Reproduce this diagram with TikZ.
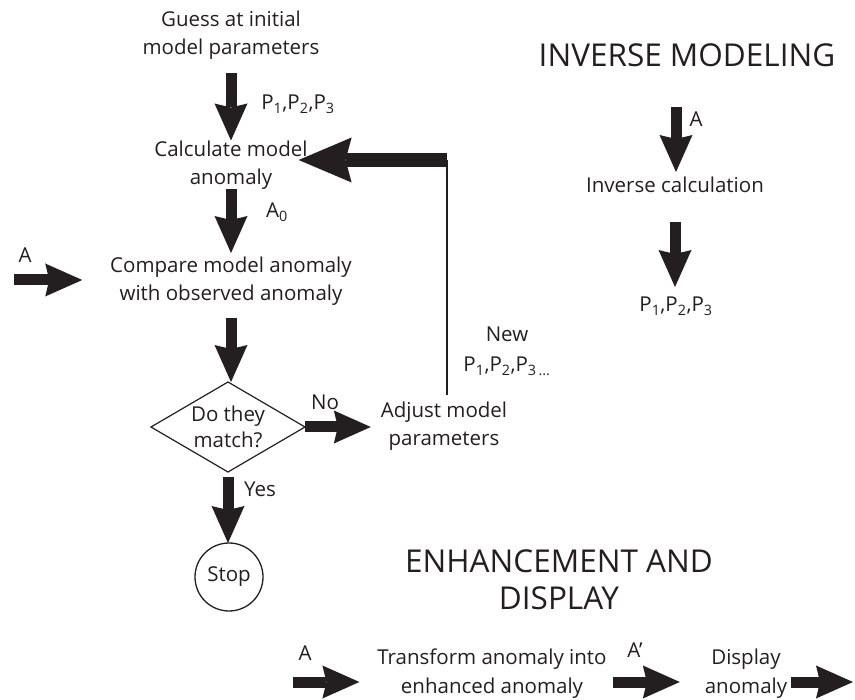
\documentclass[tikz,border=0pt]{standalone}
\usepackage{fontspec}
\setmainfont{Open Sans}
\usetikzlibrary{arrows.meta,shapes.geometric}
\definecolor{dk}{RGB}{35,31,32}
\newcommand\ls{\rule[-5pt]{0pt}{21pt}}
\newcommand\lt{\rule[-7pt]{0pt}{30pt}}
\begin{document}
\begin{tikzpicture}[x=1pt,y=-1pt,
  every node/.style={text=dk, font=\fontsize{20.5}{28}\selectfont, inner sep=0pt, outer sep=0pt},
  txt/.style={align=center},
  lbl/.style={anchor=base},
  ttl/.style={align=center, font=\fontsize{31.5}{38}\selectfont},
  fat/.style={draw=dk, line width=11pt, -{Stealth[length=37pt,width=33pt,inset=4pt,line width=0pt]}},
  big/.style={draw=dk, line width=14pt, -{Stealth[length=53pt,width=45pt,inset=6pt,line width=0pt]}},
  thinline/.style={draw=dk, line width=2pt}]
\useasboundingbox (0,0) rectangle (855,700);

% main column
\node[txt] (guess) at (231,35.5) {\ls Guess at initial\\\ls model parameters};
\node[txt] (calc) at (231,165) {\ls Calculate model\\\ls anomaly};
\node[txt] (compare) at (231,281.5) {\ls Compare model anomaly\\\ls with observed anomaly};
\node[shape=diamond, draw=dk, line width=1.2pt, minimum width=154pt, minimum height=90pt] (dec) at (228,427) {};
\node[txt, font=\fontsize{20.5}{26}\selectfont] (dect) at (228,429.5) {\ls Do they\\\ls match?};
\node[txt] (adjust) at (444,426.5) {\ls Adjust model\\\ls parameters};
\node[circle, draw=dk, line width=1.3pt, minimum size=68pt] (stop) at (229,577) {Stop};

% labels
\node[lbl] (ptop) at (298,110) {P\textsubscript{1},P\textsubscript{2},P\textsubscript{3}};
\node[lbl] (a0) at (277,218) {A\textsubscript{0}};
\node[lbl] (aleft) at (25,263) {A};
\node[lbl] (no) at (325,410) {No};
\node[lbl] (yes) at (260,497) {Yes};
\node[txt, font=\fontsize{20.5}{30}\selectfont] (new) at (507,351.5) {\ls New\\\ls P\textsubscript{1},P\textsubscript{2},P\textsubscript{3\,...}};

% inverse modeling
\node[lbl, font=\fontsize{31.5}{38}\selectfont] (tinv) at (687,67) {INVERSE MODELING};
\node[lbl] (ainv) at (696,127) {A};
\node[txt] (invcalc) at (675,187.5) {\ls Inverse calculation};
\node[txt] (invp) at (676,306.5) {\ls P\textsubscript{1},P\textsubscript{2},P\textsubscript{3}};

% enhancement
\node[ttl] (tenh) at (559,583) {\lt ENHANCEMENT AND\\\lt DISPLAY};
\node[lbl] (abot) at (305,660) {A};
\node[lbl] (aprime) at (635,658) {A’};
\node[txt, font=\fontsize{20.5}{29}\selectfont] (transform) at (492,673) {\ls Transform anomaly into\\\ls enhanced anomaly};
\node[txt, font=\fontsize{20.5}{29}\selectfont] (display) at (746,673) {\ls Display\\\ls anomaly};

% coordinates
\coordinate (inA) at (14,280);
\coordinate (fb) at (447,160);
\coordinate (invIn) at (676,107);
\coordinate (inB) at (293,682);
\coordinate (outD) at (853,682);

% connectors
\draw[fat, shorten <=13pt] (guess.south) -- (guess.south |- calc.north);
\draw[fat, shorten >=4pt] (calc.south) -- (calc.south |- compare.north);
\draw[fat, shorten <=12pt] (compare.south) -- (compare.south |- dec.north);
\draw[fat, shorten >=28pt] (inA) -- (inA -| compare.west);
\draw[fat, shorten >=10pt] (dec.east) -- (dec.east -| adjust.west);
\draw[fat, shorten <=5pt] (dec.south) -- (dec.south |- stop.north);
\draw[thinline, shorten <=7pt] (fb |- adjust.north) -- (fb);
\draw[big, shorten >=-9pt] (fb) -- (fb -| calc.east);

\draw[fat, shorten >=5pt] (invIn) -- (invIn |- invcalc.north);
\draw[fat, shorten <=24pt, shorten >=9pt] (invcalc.south) -- (invcalc.south |- invp.north);

\draw[fat, shorten >=18pt] (inB) -- (inB -| transform.west);
\draw[fat, shorten <=6pt, shorten >=25pt] (transform.east |- inB) -- (display.west |- inB);
\draw[fat, shorten <=4pt] (display.east |- inB) -- (outD);
\end{tikzpicture}
\end{document}
